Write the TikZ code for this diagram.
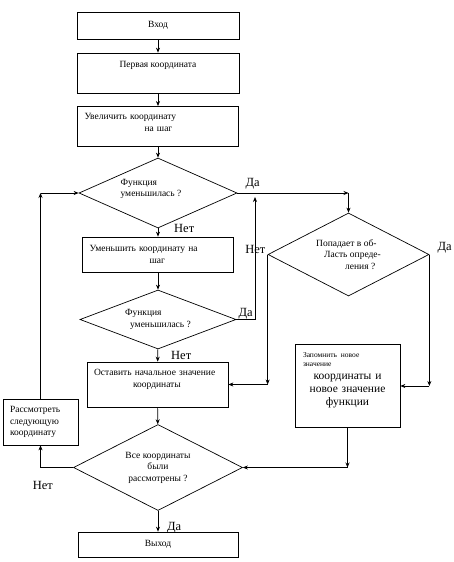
\documentclass[tikz,border=0pt]{standalone}
\usepackage{fontspec}
\setmainfont{Liberation Serif}
\usetikzlibrary{shapes.geometric, arrows.meta, positioning}

\begin{document}
\begin{tikzpicture}[
        x=1pt, y=-1pt,
        node distance=1.0cm and 1.0cm,
        blk/.style={rectangle, draw, line width=0.7pt, inner sep=7pt, font=\fontsize{9.5}{11.5}\selectfont},
        cond/.style={diamond, draw, line width=0.7pt, inner sep=0pt, align=left, font=\fontsize{9.5}{11.5}\selectfont},
        lbl/.style={inner sep=0pt, font=\fontsize{12.5}{14}\selectfont},
        arr/.style={-{Stealth[length=5pt, width=4pt]}, line width=0.7pt}
    ]
        \useasboundingbox (0,0) rectangle (454,562);

        % Main column
        \node[blk, minimum width=162pt, minimum height=27pt] (in) at (158,25.5) {Вход};
        \node[blk, minimum width=162pt, minimum height=40pt, text depth=18pt] (first) at (158,73) {Первая координата};
        \node[blk, minimum width=161pt, minimum height=39pt, text width=147pt, align=left, text depth=20pt] (incr) at (158,126.5) {Увеличить координату\\\hspace*{60pt}на шаг};
        \node[cond, minimum width=158pt, minimum height=70pt, aspect=2.26, text depth=10pt] (fd1) at (158,193) {Функция\\уменьшилась ?\hspace*{14pt}};
        \node[blk, minimum width=151pt, minimum height=35pt, text width=137pt, align=left] (decr) at (158,254.5) {Уменьшить координату на\\\hspace*{60pt}шаг};
        \node[cond, minimum width=156pt, minimum height=59pt, aspect=2.64] (fd2) at (158,319.5) {Функция\\\hspace*{5pt}уменьшилась ?};
        \node[blk, minimum width=141pt, minimum height=45pt, text width=127pt, align=left, text depth=24pt] (keep) at (157.5,384.5) {Оставить начальное значение\\\hspace*{39pt}координаты};
        \node[cond, minimum width=169pt, minimum height=86pt, aspect=1.97, align=center] (fd4) at (158,467.5) {Все координаты\\были\\рассмотрены ?};
        \node[blk, minimum width=160pt, minimum height=25pt] (out) at (158,544.5) {Выход};

        % Right branch
        \node[cond, minimum width=161pt, minimum height=83pt, aspect=1.94] (dom) at (348.5,254.5) {Попадает в об-\\\hspace*{8pt}Ласть опреде-\hspace*{10pt}\\\hspace*{29pt}ления ?};
        \node[blk, minimum width=105pt, minimum height=82pt, inner sep=8pt, text width=89pt, align=center, text depth=62pt, font=\fontsize{11.5}{13}\selectfont] (save) at (347.5,386)
            {\makebox[89pt][l]{\fontsize{7.5}{9}\selectfont Запомнить новое}\\[-4pt]\makebox[89pt][l]{\fontsize{7.5}{9}\selectfont значение}\\координаты и\\новое значение\\функции};

        % Left branch
        \node[blk, minimum width=75pt, minimum height=46pt, text width=61pt, align=left] (rest) at (40.5,422) {Рассмотреть\\следующую\\координату};

        % Answers
        \node[lbl, above right=4pt and 8pt of fd1.east] (yes1) {Да};
        \node[lbl, right=16pt of fd1.south] (no1) {Нет};
        \node[lbl, above left=1pt and 2pt of dom.west] (no2) {Нет};
        \node[lbl, above right=1pt and 8pt of dom.east] (yes2) {Да};
        \node[lbl, above right=0pt and 2pt of fd2.east] (yes3) {Да};
        \node[lbl, below right=2pt and 13pt of fd2.south] (no3) {Нет};
        \node[lbl, below left=14pt and 20pt of fd4.west] (no4) {Нет};
        \node[lbl, below right=11pt and 9pt of fd4.south] (yes4) {Да};

        % Bends
        \coordinate (j0) at (dom.north |- fd1.east);
        \coordinate (j1) at (dom.west |- keep.east);
        \coordinate (j2) at (dom.east |- save.east);
        \coordinate (j3) at (save.south |- fd4.east);
        \coordinate (j4) at (rest.north |- fd1.west);
        \coordinate (j5) at (255,197);

        % Straight flow
        \draw[arr] (in) -- (first);
        \draw[arr] (first) -- (incr);
        \draw[arr] (incr) -- (fd1);
        \draw[arr] (fd1) -- (decr);
        \draw[arr] (decr) -- (fd2);
        \draw[arr] (fd2) -- (keep);
        \draw[arr] (keep) -- (fd4);
        \draw[arr] (fd4) -- (out);

        % Branches
        \draw[arr] (fd1.east) -- (j0);
        \draw[arr] (j0) -- (dom.north);
        \draw[arr] (fd2.east) -| (j5);
        \draw[arr] (dom.west) -- (j1);
        \draw[arr] (j1) -- (keep.east);
        \draw[arr] (dom.east) -- (j2);
        \draw[arr] (j2) -- (save.east);
        \draw[arr] (save.south) -- (j3);
        \draw[arr] (j3) -- (fd4.east);
        \draw[arr] (fd4.west) -| (rest.south);
        \draw[arr] (rest.north) -- (j4);
        \draw[arr] (j4) -- (fd1.west);
    \end{tikzpicture}
\end{document}
